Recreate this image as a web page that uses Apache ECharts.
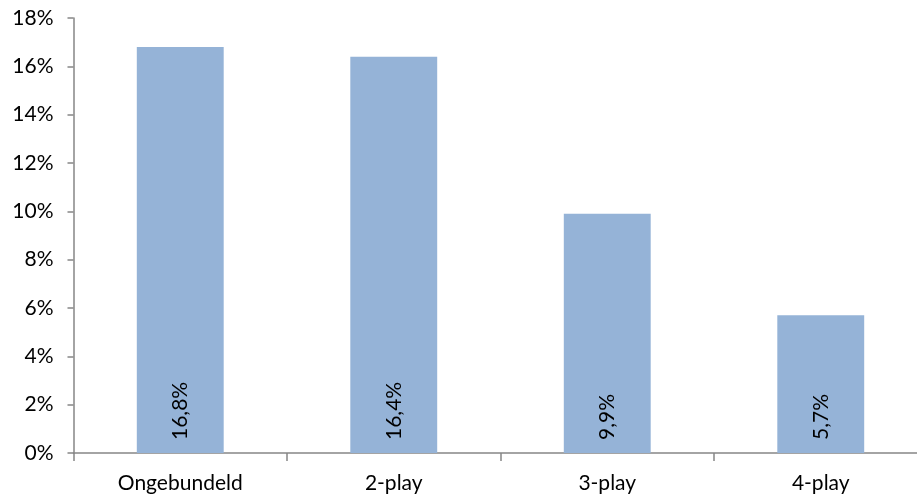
<!DOCTYPE html>
<html><head><meta charset="utf-8">
<script src="https://cdn.jsdelivr.net/npm/echarts@6/dist/echarts.min.js"></script>
<style>html,body{margin:0;padding:0;background:#fff}#c{width:917px;height:500px}</style>
</head><body><div id="c"></div>
<script>
const categories = ['Ongebundeld', '2-play', '3-play', '4-play'];
const values = [16.8, 16.4, 9.9, 5.7];
const yTicks = [0, 2, 4, 6, 8, 10, 12, 14, 16, 18];

const chart = echarts.init(document.getElementById('c'), null, {renderer: 'canvas'});
const font = 'Lato, "Open Sans", sans-serif';
chart.setOption({
  animation: false,
  grid: {left: 73.5, top: 18, width: 854, bottom: 47, outerBoundsMode: 'none', containLabel: false},
  xAxis: {
    type: 'category', data: categories,
    axisLine: {lineStyle: {color: '#868686', width: 1.5}},
    axisTick: {show: true, length: 8, alignWithLabel: false, lineStyle: {color: '#868686', width: 1.5}},
    axisLabel: {color: '#000', fontSize: 21, fontFamily: font, margin: 20}
  },
  yAxis: {
    type: 'value', min: yTicks[0], max: yTicks[yTicks.length - 1], interval: 2,
    axisLine: {show: true, lineStyle: {color: '#868686', width: 1.5}},
    axisTick: {show: true, length: 6, lineStyle: {color: '#868686', width: 1.5}},
    splitLine: {show: false},
    axisLabel: {color: '#000', fontSize: 21, fontFamily: font, margin: 20, formatter: v => v + '%'}
  },
  series: [{
    type: 'bar', data: values, barWidth: '40.7%',
    itemStyle: {color: '#95B3D7'},
    label: {
      show: true, position: 'insideBottom', rotate: 90, distance: 13,
      align: 'left', verticalAlign: 'middle',
      color: '#000', fontSize: 21, fontFamily: font,
      formatter: p => String(p.value).replace('.', ',') + '%'
    }
  }]
});
</script></body></html>
